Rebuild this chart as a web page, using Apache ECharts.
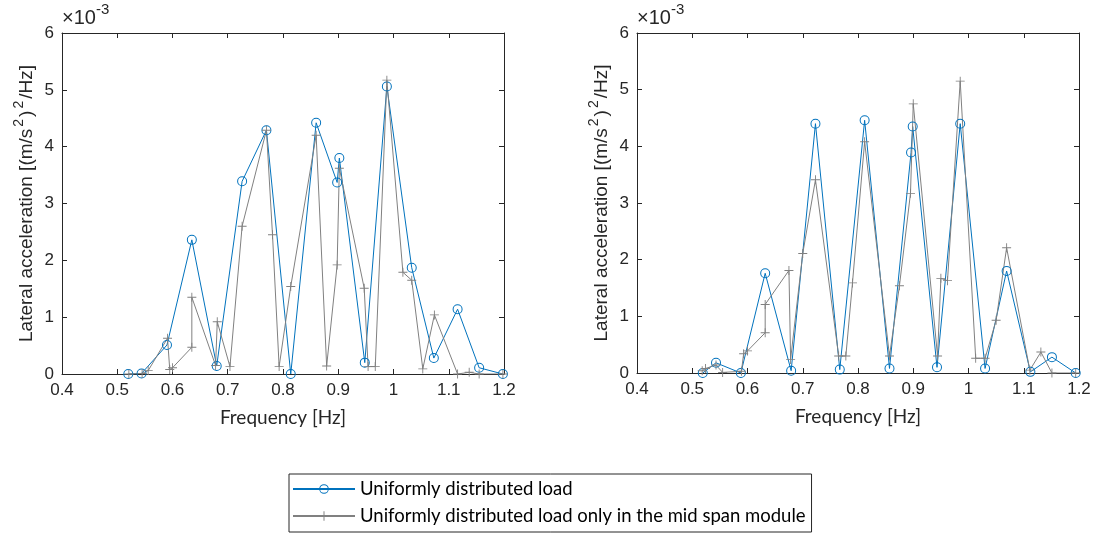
<!DOCTYPE html>
<html>
<head>
<meta charset="utf-8">
<script src="https://cdn.jsdelivr.net/npm/echarts@6/dist/echarts.min.js"></script>
<style>html,body{margin:0;padding:0;background:#fff}#c{width:1097px;height:541px}</style>
</head>
<body>
<div id="c"></div>
<script>
// Values in units of 1e-3 (m/s^2)^2/Hz
const seriesNames = ['Uniformly distributed load', 'Uniformly distributed load only in the mid span module'];
const xTickLabels = ['0.4','0.5','0.6','0.7','0.8','0.9','1','1.1','1.2'];
const yTickLabels = ['0','1','2','3','4','5','6'];

// Left panel
const leftFreqU = [0.520,0.544,0.590,0.635,0.680,0.726,0.770,0.814,0.860,0.898,0.902,0.948,0.988,1.033,1.073,1.116,1.155,1.198];
const leftValU  = [0.00,0.01,0.51,2.36,0.14,3.39,4.29,0.00,4.42,3.37,3.80,0.20,5.06,1.87,0.28,1.14,0.11,0.00];
const leftFreqM = [0.521,0.545,0.556,0.591,0.595,0.600,0.635,0.635,0.678,0.681,0.704,0.726,0.770,0.781,0.793,0.814,0.860,0.879,0.898,0.902,0.947,0.954,0.967,0.988,1.017,1.033,1.053,1.074,1.116,1.137,1.155,1.198];
const leftValM  = [0.00,0.01,0.06,0.63,0.08,0.11,0.47,1.35,0.15,0.92,0.13,2.60,4.29,2.45,0.13,1.54,4.20,0.14,1.92,3.62,1.51,0.13,0.13,5.17,1.79,1.65,0.09,1.04,0.00,0.03,0.00,0.00];

// Right panel
const rightFreqU = [0.519,0.543,0.588,0.632,0.679,0.723,0.767,0.812,0.857,0.896,0.899,0.943,0.985,1.030,1.069,1.112,1.151,1.194];
const rightValU  = [0.00,0.18,0.00,1.76,0.04,4.40,0.06,4.46,0.08,3.89,4.35,0.10,4.40,0.08,1.80,0.02,0.28,0.00];
const rightFreqM = [0.518,0.524,0.543,0.555,0.589,0.593,0.600,0.632,0.632,0.675,0.678,0.700,0.723,0.765,0.778,0.790,0.812,0.857,0.875,0.895,0.900,0.944,0.950,0.962,0.985,1.013,1.030,1.050,1.069,1.111,1.131,1.151,1.194];
const rightValM  = [0.04,0.08,0.14,0.01,0.03,0.34,0.39,0.71,1.21,1.81,0.24,2.11,3.41,0.30,0.30,1.59,4.08,0.30,1.54,3.17,4.75,0.30,1.67,1.63,5.15,0.26,0.26,0.93,2.21,0.05,0.37,0.00,0.00];

const zip = (xs, ys) => xs.map((x, i) => [x, ys[i]]);
const BLUE = '#0072BD', GRAY = '#808080', AX = '#262626';
const RING = 'path://M5,0A5,5 0 1 1 5,10A5,5 0 1 1 5,0ZM5,1A4,4 0 1 0 5,9A4,4 0 1 0 5,1Z';
const PLUS = 'path://M4.5,0H5.5V4.5H10V5.5H5.5V10H4.5V5.5H0V4.5H4.5Z';
const TICKFONT = 'Liberation Sans';
const LBLFONT = 'Lato';

function xAx(gi, pos) {
  const bottom = pos === 'bottom';
  return {
    type: 'value', gridIndex: gi, position: pos, min: 0.4, max: 1.2, interval: 0.1,
    axisLine: { show: true, onZero: false, lineStyle: { color: AX, width: 1 } },
    axisTick: { show: true, inside: true, length: 5, lineStyle: { color: AX } },
    splitLine: { show: false },
    axisLabel: bottom ? { show: true, color: AX, fontFamily: TICKFONT, fontSize: 17, margin: 8,
      formatter: v => xTickLabels[Math.round((v - 0.4) / 0.1)] } : { show: false },
    name: bottom ? 'Frequency [Hz]' : '', nameLocation: 'middle', nameGap: 34,
    nameTextStyle: { color: AX, fontFamily: LBLFONT, fontSize: 19 }
  };
}
function yAx(gi, pos) {
  const left = pos === 'left';
  return {
    type: 'value', gridIndex: gi, position: pos, min: 0, max: 6, interval: 1,
    axisLine: { show: true, onZero: false, lineStyle: { color: AX, width: 1 } },
    axisTick: { show: true, inside: true, length: 5, lineStyle: { color: AX } },
    splitLine: { show: false },
    axisLabel: left ? { show: true, color: AX, fontFamily: TICKFONT, fontSize: 17, margin: 8,
      formatter: v => yTickLabels[Math.round(v)] } : { show: false },
    name: left ? '{a|Lateral acceleration [(m/s}{s|2}{a|)}{s|2}{a|/Hz]}' : '',
    nameLocation: 'middle', nameGap: 26, nameRotate: 90,
    nameTextStyle: { color: AX, fontFamily: TICKFONT, fontSize: 19,
      rich: {
        a: { fontFamily: TICKFONT, fontSize: 19, color: AX, lineHeight: 24, verticalAlign: 'bottom' },
        s: { fontFamily: TICKFONT, fontSize: 14, color: AX, lineHeight: 24, verticalAlign: 'top', padding: [0, 2, 0, 2] }
      } }
  };
}
function mk(name, data, xi, yi, color, sym, size) {
  return {
    name, type: 'line', xAxisIndex: xi, yAxisIndex: yi, data,
    symbol: sym, symbolSize: size, showSymbol: true, animation: false,
    lineStyle: { color, width: 1 }, itemStyle: { color },
    emphasis: { disabled: true }
  };
}
const expRich = {
  a: { fontFamily: TICKFONT, fontSize: 20, fill: AX, lineHeight: 26, verticalAlign: 'bottom' },
  s: { fontFamily: TICKFONT, fontSize: 15, fill: AX, lineHeight: 26, verticalAlign: 'top' }
};

const chart = echarts.init(document.getElementById('c'), null, { renderer: 'canvas' });
chart.setOption({
  backgroundColor: '#fff',
  animation: false,
  grid: [
    { left: 62, top: 33, width: 442, height: 341 },
    { left: 637, top: 33, width: 442, height: 340 }
  ],
  xAxis: [xAx(0, 'bottom'), xAx(0, 'top'), xAx(1, 'bottom'), xAx(1, 'top')],
  yAxis: [yAx(0, 'left'), yAx(0, 'right'), yAx(1, 'left'), yAx(1, 'right')],
  legend: {
    orient: 'vertical', left: 289, top: 474,
    data: seriesNames,
    itemWidth: 62, itemHeight: 12, itemGap: 7,
    padding: [5, 6, 6, 3],
    borderColor: AX, borderWidth: 1, borderRadius: 0,
    textStyle: { color: '#000', fontFamily: LBLFONT, fontSize: 18.5, lineHeight: 20 },
    selectedMode: false
  },
  graphic: [
    { type: 'text', left: 62, top: 2, style: { text: '{a|×10}{s|-3}', rich: expRich } },
    { type: 'text', left: 637, top: 2, style: { text: '{a|×10}{s|-3}', rich: expRich } }
  ],
  series: [
    mk(seriesNames[0], zip(leftFreqU, leftValU), 0, 0, BLUE, RING, 10),
    mk(seriesNames[1], zip(leftFreqM, leftValM), 0, 0, GRAY, PLUS, 9),
    mk(seriesNames[0], zip(rightFreqU, rightValU), 2, 2, BLUE, RING, 10),
    mk(seriesNames[1], zip(rightFreqM, rightValM), 2, 2, GRAY, PLUS, 9)
  ]
});
</script>
</body>
</html>
